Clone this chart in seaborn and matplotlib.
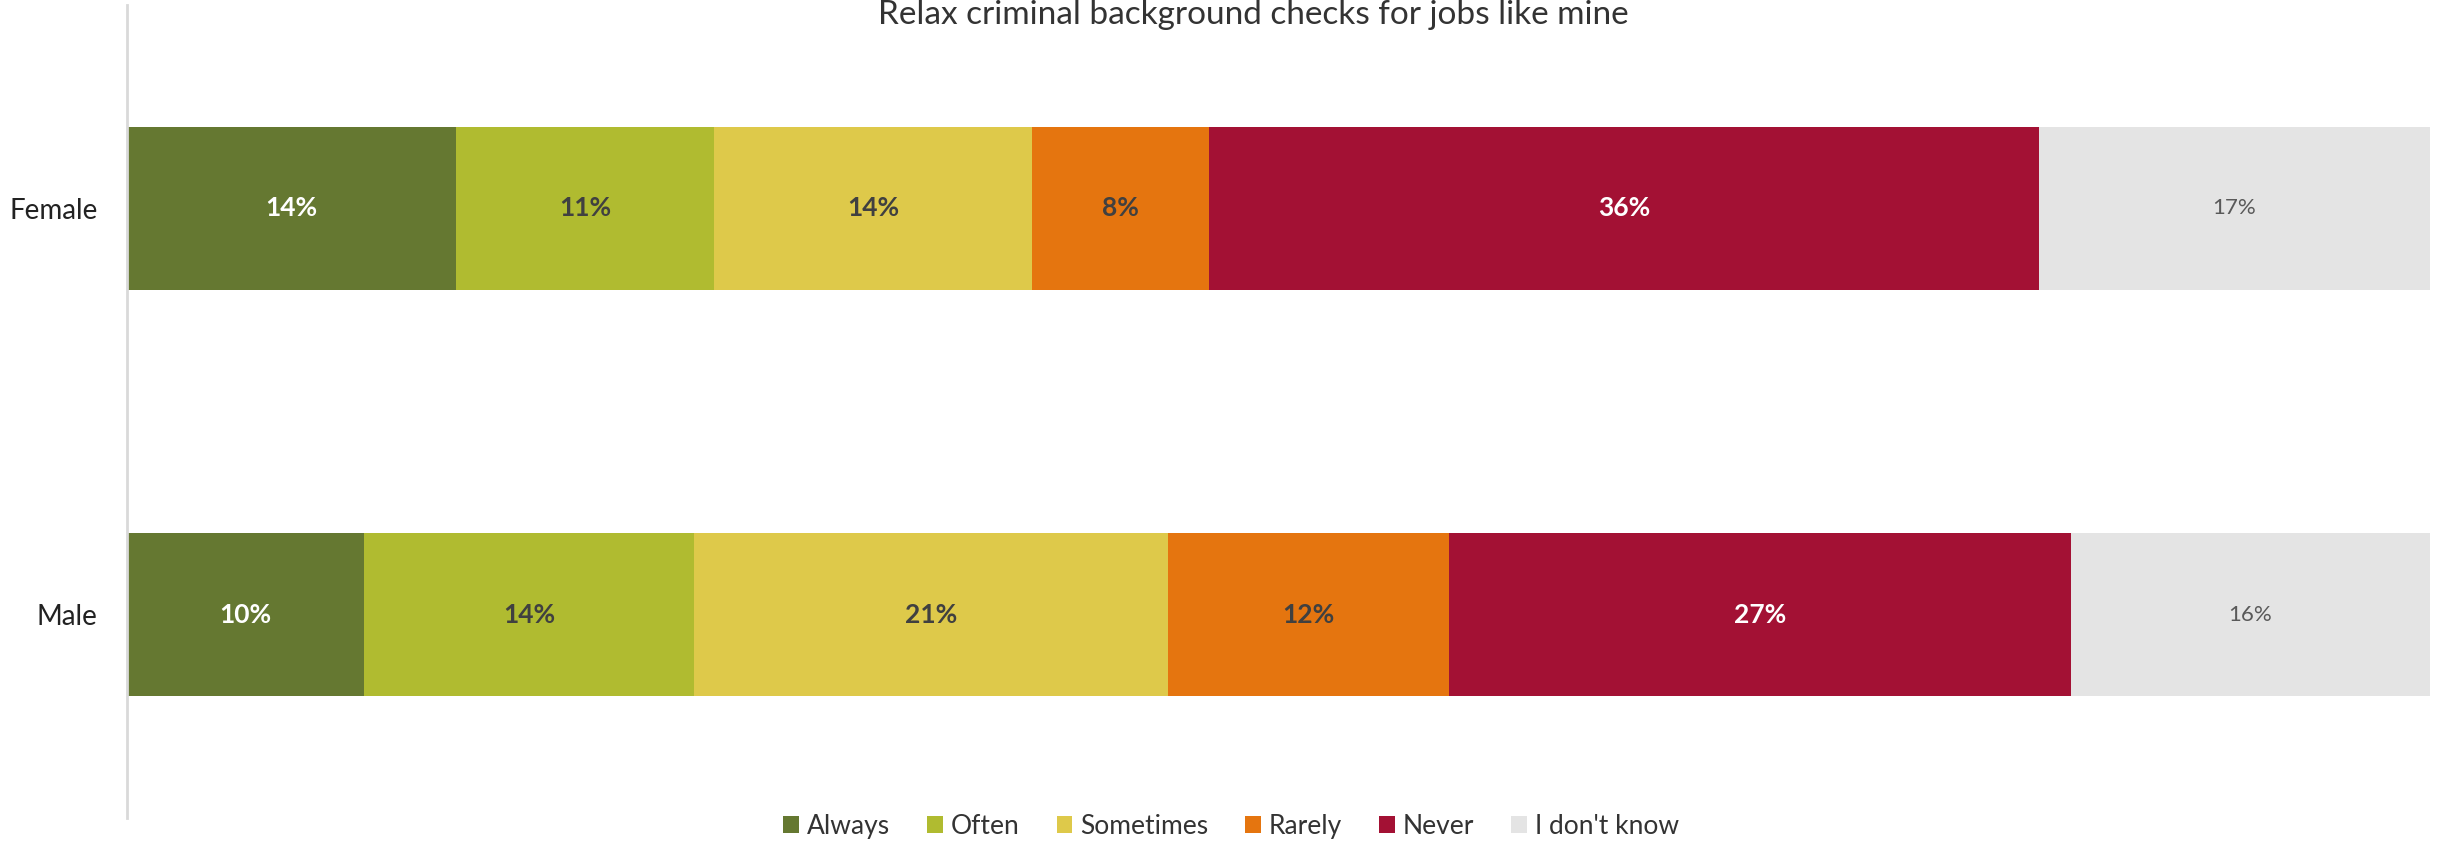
import matplotlib
matplotlib.use("Agg")
import matplotlib.pyplot as plt
from matplotlib.patches import Patch
import numpy as np
import pandas as pd
import seaborn as sns

title = "Relax criminal background checks for jobs like mine"
groups = ["Female", "Male"]
responses = ["Always", "Often", "Sometimes", "Rarely", "Never", "I don't know"]
female = [14.3, 11.2, 13.8, 7.7, 36.0, 17.0]
male = [10.3, 14.3, 20.6, 12.2, 27.0, 15.6]
colors = ["#657831", "#B0BB30", "#DEC94A", "#E5750F", "#A31134", "#E4E4E4"]
label_colors = ["white", "#404040", "#404040", "#404040", "white", "#595959"]

sns.set_style("white")
plt.rcParams["font.family"] = ["Lato", "DejaVu Sans"]

vals = np.array([female, male]) / 100.0
cum = vals.cumsum(axis=1)

fig = plt.figure(figsize=(24.43, 8.43), dpi=100)
ax = fig.add_axes([0.052, 0.0297, 0.9427, 0.9644])

# stacked bars: draw cumulative totals from the largest down
for i in range(len(responses) - 1, -1, -1):
    df = pd.DataFrame({"group": groups, "value": cum[:, i]})
    sns.barplot(data=df, x="value", y="group", orient="h", color=colors[i],
                width=0.4, saturation=1, ax=ax, linewidth=0)

for g in range(len(groups)):
    for i in range(len(responses)):
        x = cum[g, i] - vals[g, i] / 2
        bold = i < len(responses) - 1
        ax.text(x, g, f"{vals[g, i]:.0%}", ha="center", va="center",
                color=label_colors[i], fontsize=19 if bold else 16,
                fontweight="bold" if bold else "normal")

ax.set_xlim(0, 1)
ax.set_ylim(1.5, -0.5)
ax.set_xlabel("")
ax.set_ylabel("")
ax.set_xticks([])
ax.tick_params(axis="y", length=0, pad=21, labelsize=20, labelcolor="#222222")
for s in ["top", "right", "bottom"]:
    ax.spines[s].set_visible(False)
ax.spines["left"].set_color("#D9D9D9")
ax.spines["left"].set_linewidth(2)

fig.text(0.513, 0.972, title, ha="center", va="baseline", fontsize=24,
         color="#333333")

handles = [Patch(facecolor=c, edgecolor="none") for c in colors]
fig.legend(handles, responses, loc="center", bbox_to_anchor=(0.504, 0.02),
           ncol=6, frameon=False, fontsize=19, handlelength=0.6,
           handleheight=0.6, handletextpad=0.3, columnspacing=1.4,
           labelcolor="#333333")

fig.savefig("out.png", dpi=100)
